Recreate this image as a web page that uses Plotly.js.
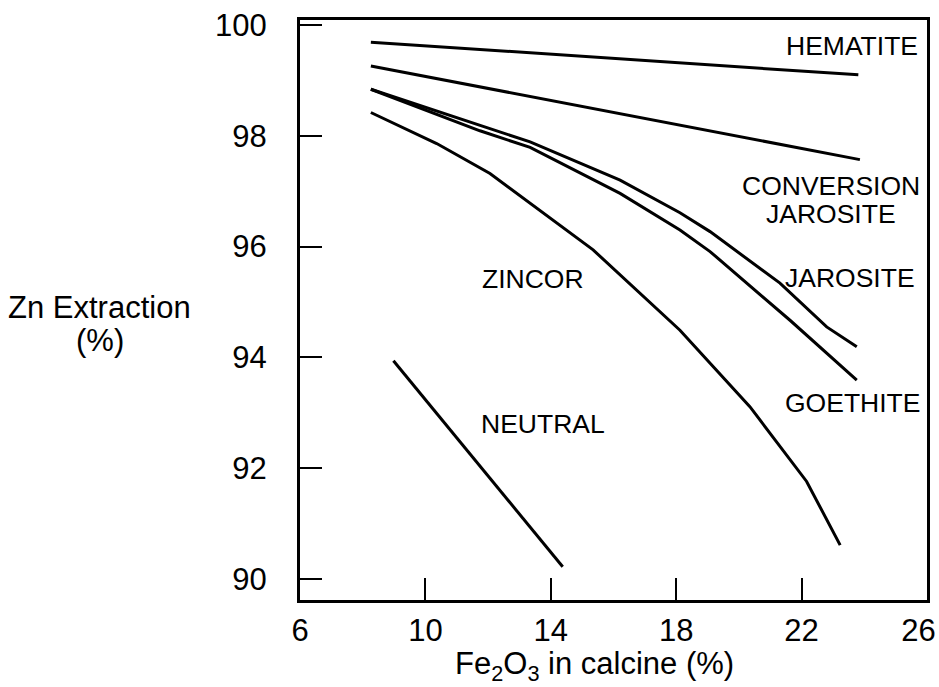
<!DOCTYPE html>
<html>
<head>
<meta charset="utf-8">
<script src="https://cdn.plot.ly/plotly-3.0.1.min.js"></script>
<style>html,body{margin:0;padding:0;background:#fff;}#chart{width:939px;height:687px;}</style>
</head>
<body>
<div id="chart"></div>
<script>
// Fe2O3 in calcine (%)  vs  Zn extraction (%)
const hematiteX   = [8.26, 23.81];
const hematiteY   = [99.69, 99.10];

const conversionX = [8.26, 23.86];
const conversionY = [99.26, 97.57];

const jarositeX   = [8.26, 11.74, 13.34, 16.21, 18.12, 19.08, 21.31, 22.80, 23.76];
const jarositeY   = [98.84, 98.18, 97.89, 97.20, 96.61, 96.27, 95.34, 94.55, 94.19];

const goethiteX   = [8.26, 11.74, 13.34, 16.21, 18.12, 19.08, 21.63, 22.80, 23.76];
const goethiteY   = [98.84, 98.09, 97.79, 96.96, 96.30, 95.91, 94.67, 94.07, 93.59];

const zincorX     = [8.26, 10.36, 12.06, 15.35, 18.12, 20.35, 22.16, 23.23];
const zincorY     = [98.42, 97.86, 97.32, 95.94, 94.49, 93.11, 91.76, 90.61];

const neutralX    = [8.98, 14.38];
const neutralY    = [93.94, 90.22];

const xTicks = [6, 10, 14, 18, 22, 26];
const xTickText = ['6', '10', '14', '18', '22', '26\u00a0\u00a0'];
const yTicks = [90, 92, 94, 96, 98, 100];

const labels = [
  {text: 'HEMATITE',   x: 23.61, y: 99.62},
  {text: 'CONVERSION', x: 22.95, y: 97.09},
  {text: 'JAROSITE',   x: 22.95, y: 96.59},
  {text: 'JAROSITE',   x: 23.54, y: 95.43},
  {text: 'GOETHITE',   x: 23.62, y: 93.18},
  {text: 'ZINCOR',     x: 13.42, y: 95.41},
  {text: 'NEUTRAL',    x: 13.75, y: 92.79}
];

const FONT = 'Liberation Sans, Arial, Helvetica, sans-serif';
const lineStyle = {color: '#000', width: 3};

const series = [
  [hematiteX, hematiteY], [conversionX, conversionY], [jarositeX, jarositeY],
  [goethiteX, goethiteY], [zincorX, zincorY], [neutralX, neutralY]
];
const traces = series.map(s => ({
  x: s[0], y: s[1], type: 'scatter', mode: 'lines',
  line: lineStyle, showlegend: false, hoverinfo: 'skip'
}));

const annotations = labels.map(l => ({
  text: l.text, x: l.x, y: l.y, xref: 'x', yref: 'y',
  showarrow: false, xanchor: 'center', yanchor: 'middle',
  font: {family: FONT, size: 26.5, color: '#000'}
}));
annotations.push({
  text: 'Zn Extraction', xref: 'paper', yref: 'paper',
  x: -0.319, y: 0.505, showarrow: false, xanchor: 'center', yanchor: 'middle',
  font: {family: FONT, size: 31, color: '#000'}
});
annotations.push({
  text: '(%)', xref: 'paper', yref: 'paper',
  x: -0.319, y: 0.448, showarrow: false, xanchor: 'center', yanchor: 'middle',
  font: {family: FONT, size: 31, color: '#000'}
});
annotations.push({
  text: 'Fe<sub>2</sub>O<sub>3</sub> in calcine (%)', xref: 'paper', yref: 'paper',
  x: 0.47, y: -0.113, showarrow: false, xanchor: 'center', yanchor: 'middle',
  font: {family: FONT, size: 31, color: '#000'}
});

const layout = {
  width: 939, height: 687,
  margin: {l: 300, r: 12, t: 20, b: 87},
  paper_bgcolor: '#fff', plot_bgcolor: '#fff',
  xaxis: {
    range: [6, 26], tickvals: xTicks, ticktext: xTickText,
    ticks: 'inside', ticklen: 22, tickwidth: 2, tickcolor: '#000',
    showline: true, linewidth: 3, linecolor: '#000', mirror: true,
    showgrid: false, zeroline: false, ticklabelstandoff: 1,
    ticklabeloverflow: 'allow',
    tickfont: {family: FONT, size: 31, color: '#000'}
  },
  yaxis: {
    range: [89.62, 100.09], tickvals: yTicks, ticktext: yTicks.map(String),
    ticks: 'inside', ticklen: 22, tickwidth: 2, tickcolor: '#000',
    showline: true, linewidth: 3, linecolor: '#000', mirror: true,
    showgrid: false, zeroline: false, ticklabelstandoff: 24,
    tickfont: {family: FONT, size: 31, color: '#000'}
  },
  annotations: annotations
};

Plotly.newPlot('chart', traces, layout, {staticPlot: true, displayModeBar: false});
</script>
</body>
</html>
